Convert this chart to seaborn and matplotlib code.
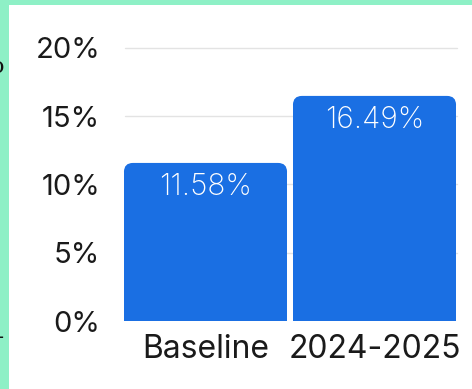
import matplotlib
matplotlib.use("Agg")
import matplotlib.pyplot as plt
import seaborn as sns
import pandas as pd
from matplotlib.patches import FancyBboxPatch, Rectangle

categories = ["Baseline", "2024-2025"]
values = [11.58, 16.49]
bar_labels = ["11.58%", "16.49%"]
yticks = [0, 5, 10, 15, 20]
ytick_labels = ["0%", "5%", "10%", "15%", "20%"]

W, H = 472, 389
sns.set_theme(style="white")
plt.rcParams["font.family"] = ["Inter", "DejaVu Sans"]

fig = plt.figure(figsize=(W / 100, H / 100), dpi=100)
fig.patch.set_facecolor("#8ef0c6")
# white panel
fig.patches.append(Rectangle((9 / W, 0), 1 - 9 / W, 1 - 5 / H, transform=fig.transFigure,
                             facecolor="white", edgecolor="none", zorder=-10))
# partial glyphs cut at the left edge
fig.text(4 / W, 1 - 67 / H, "o", ha="right", va="center", fontsize=16,
         family="DejaVu Serif", color="#111111")
fig.text(4 / W, 1 - 338 / H, "-", ha="right", va="center", fontsize=14,
         family="DejaVu Sans", color="#111111")

ax = fig.add_axes([121 / W, 68 / H, (459 - 121) / W, (321 - 48) / H])
ax.set_facecolor("none")
df = pd.DataFrame({"cat": categories, "val": values})
sns.barplot(data=df, x="cat", y="val", color="#1a6fe3", saturation=1, width=0.965,
            linewidth=0, edgecolor="none", ax=ax)
ax.set_xlim(-0.5, 1.5)
ax.set_ylim(0, 20)

fig.canvas.draw()
# px -> data conversions
x_per_px = 2.0 / ax.bbox.width
y_per_px = 20.0 / ax.bbox.height
r_px = 9
for p in list(ax.patches):
    x, y = p.get_x(), p.get_y()
    w, h = p.get_width(), p.get_height()
    color = p.get_facecolor()
    rx = r_px * x_per_px
    ry = r_px * y_per_px
    p.set_height(h - ry)
    p.set_linewidth(0)
    rb = FancyBboxPatch((x, y + h - 2 * ry), w, 2 * ry,
                        boxstyle=f"round,pad=0,rounding_size={rx}",
                        mutation_aspect=y_per_px / x_per_px,
                        facecolor=color, edgecolor="none", linewidth=0,
                        zorder=p.get_zorder())
    ax.add_patch(rb)

for i, (v, lab) in enumerate(zip(values, bar_labels)):
    ax.text(i, v - 24 * y_per_px, lab, ha="center", va="center", color="white",
            fontsize=21.5, fontweight="light")

ax.set_yticks(yticks)
ax.set_yticklabels(ytick_labels)
for yv in yticks[1:]:
    ax.plot([4 * x_per_px - 0.5, 1.5 - 2 * x_per_px], [yv, yv], color="#e3e3e3",
            lw=1, zorder=0, clip_on=False)
ax.tick_params(axis="y", labelsize=21, colors="#1a1a1a", length=0, pad=15)
ax.tick_params(axis="x", labelsize=23, colors="#1a1a1a", length=0, pad=9)
ax.set_xlabel("")
ax.set_ylabel("")
for s in ax.spines.values():
    s.set_visible(False)

fig.savefig("out.png", dpi=100, facecolor=fig.get_facecolor())
